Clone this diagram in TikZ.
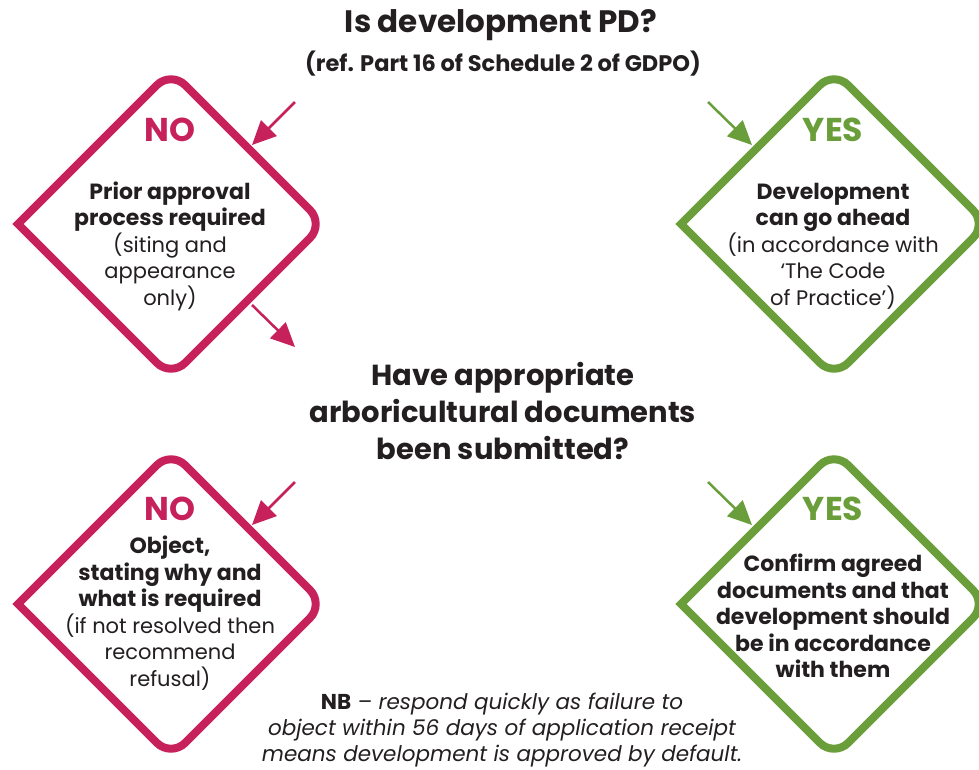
\documentclass[tikz,border=0pt]{standalone}
\usepackage{fontspec}
\setmainfont{Poppins}
\usetikzlibrary{arrows.meta}
\definecolor{crim}{HTML}{C6215B}
\definecolor{leaf}{HTML}{6A9E3A}
\definecolor{ink}{HTML}{231F20}
\tikzset{
  x=1pt, y=-1pt,
  outline/.style={line width=8pt, line join=miter, miter limit=10},
  pics/decision/.style={code={
    \draw[outline, #1] (-76.5,76.5) -- (-153,0) -- (-76.5,-76.5)
      [rounded corners=20pt] -- (0,-153) -- (153,0) -- (0,153) -- cycle;
  }},
  verdict/.style={font=\fontsize{33}{36}\selectfont\bfseries, inner sep=0pt},
  body/.style={font=\fontsize{21}{26.5}\selectfont, text=ink, align=center, inner sep=0pt},
  strong/.style={font=\fontsize{22}{26.5}\selectfont\bfseries},
  flow/.style={line width=2.5pt, -{Triangle[length=24pt,width=22pt]}},
  heading/.style={font=\fontsize{29}{37}\selectfont\bfseries, text=ink, align=center, inner sep=0pt},
}
\newcommand\strongline[1]{{\fontsize{22}{26.5}\selectfont\bfseries #1}}
\begin{document}
\begin{tikzpicture}
\useasboundingbox (0,0) rectangle (979,769);
\clip (0,0) rectangle (979,769);

% question headings
\node[font=\fontsize{31}{34}\selectfont\bfseries, text=ink, inner sep=0pt] (q1) at (501,25) {Is development PD?};
\node[font=\fontsize{22.5}{26}\selectfont\bfseries, text=ink, inner sep=0pt] (q1ref) at (503,64) {(ref. Part 16 of Schedule 2 of GDPO)};
\node[heading] (q2) at (503,411) {Have appropriate\\arboricultural documents\\been submitted?};

% decision diamonds
\pic at (171,224) {decision=crim};
\pic at (834,224) {decision=leaf};
\pic at (171,604) {decision=crim};
\pic at (834,604) {decision=leaf};

% outcome labels
\node[verdict, text=crim] (noA) at (170,130) {NO};
\node[verdict, text=leaf] (yesA) at (833,130) {YES};
\node[verdict, text=crim] (noB) at (170,509) {NO};
\node[verdict, text=leaf] (yesB) at (833,509) {YES};

\node[body] (noAtext) at (170,246) {\strongline{Prior approval}\\\strongline{process required}\\(siting and\\appearance\\only)};
\node[body] (yesAtext) at (833,246) {\strongline{Development}\\\strongline{can go ahead}\\(in accordance with\\‘The Code\\of Practice’)};
\node[body] (noBtext) at (170,613) {\strongline{Object,}\\\strongline{stating why and}\\\strongline{what is required}\\(if not resolved then\\recommend\\refusal)};
\node[body, strong] (yesBtext) at (833,616) {Confirm agreed\\documents and that\\development should\\be in accordance\\with them};

% note
\node[body, font=\fontsize{21.5}{26}\selectfont\itshape] (note) at (502,730) {\textbf{\upshape NB} – respond quickly as failure to\\object within 56 days of application receipt\\means development is approved by default.};

% flow arrows
\coordinate (a1s) at (295,102); \coordinate (a1e) at (252,145);
\coordinate (a2s) at (252,305); \coordinate (a2e) at (295,347);
\coordinate (a3s) at (708,102); \coordinate (a3e) at (752,145);
\coordinate (a4s) at (295,482); \coordinate (a4e) at (252,525);
\coordinate (a5s) at (708,482); \coordinate (a5e) at (752,525);
\draw[flow, crim] (a1s) -- (a1e);
\draw[flow, crim] (a2s) -- (a2e);
\draw[flow, leaf] (a3s) -- (a3e);
\draw[flow, crim] (a4s) -- (a4e);
\draw[flow, leaf] (a5s) -- (a5e);
\end{tikzpicture}
\end{document}
